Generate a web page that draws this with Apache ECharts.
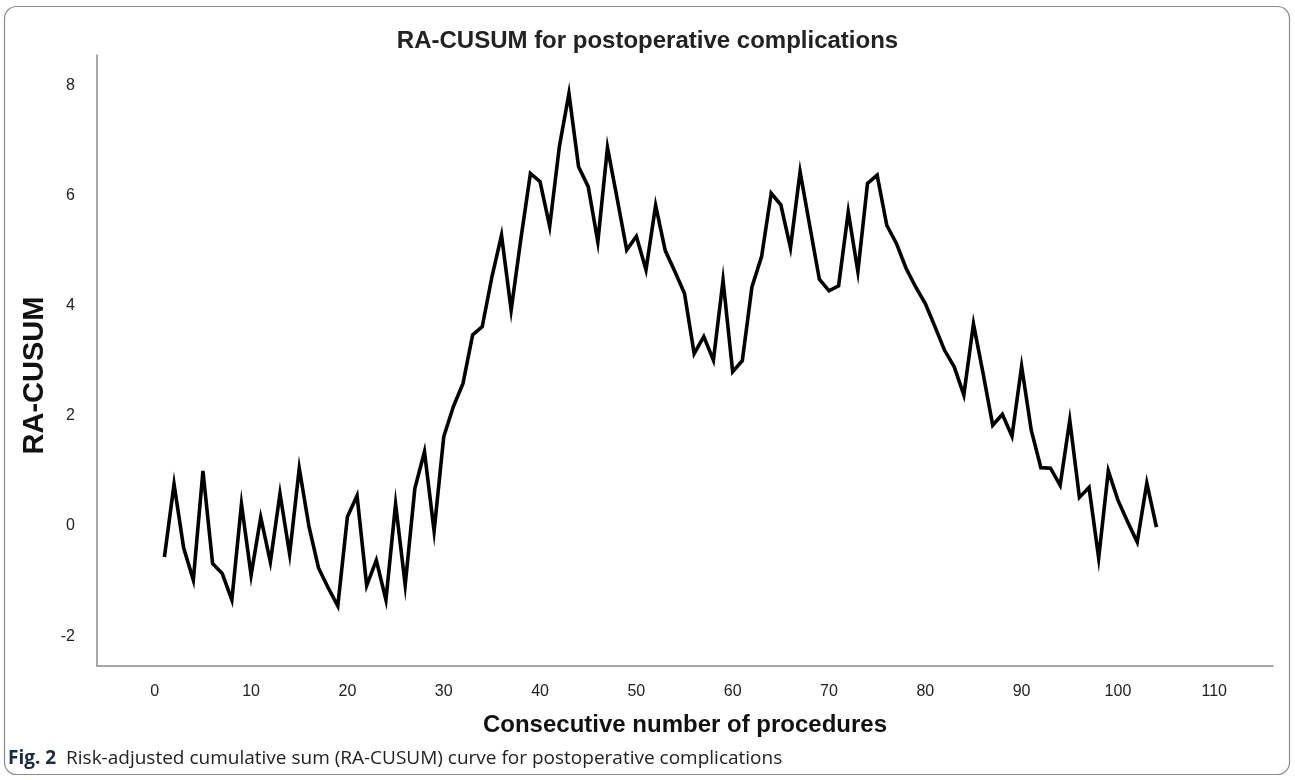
<!DOCTYPE html>
<html>
<head>
<meta charset="utf-8">
<script src="https://cdn.jsdelivr.net/npm/echarts@6/dist/echarts.min.js"></script>
<style>
html,body{margin:0;padding:0;background:#fff;}
#chart{width:1295px;height:780px;}
</style>
</head>
<body>
<div id="chart"></div>
<script>
const procedures = [];
for (let i = 1; i <= 104; i++) procedures.push(i);
const raCusum = [
  -0.56, 0.76, -0.40, -0.98, 1.00, -0.68, -0.86, -1.34, 0.40, -0.89,
  0.16, -0.65, 0.59, -0.51, 1.05, 0.00, -0.76, -1.12, -1.45, 0.17,
  0.55, -1.08, -0.62, -1.34, 0.40, -1.07, 0.68, 1.35, -0.09, 1.62,
  2.17, 2.59, 3.47, 3.62, 4.52, 5.28, 3.92, 5.20, 6.40, 6.25,
  5.44, 6.88, 7.85, 6.52, 6.16, 5.16, 6.87, 5.95, 5.01, 5.26,
  4.65, 5.82, 5.00, 4.62, 4.22, 3.13, 3.44, 3.01, 4.46, 2.80,
  3.00, 4.34, 4.89, 6.04, 5.83, 5.05, 6.43, 5.45, 4.48, 4.27,
  4.36, 5.70, 4.62, 6.22, 6.37, 5.46, 5.13, 4.68, 4.34, 4.04,
  3.62, 3.19, 2.89, 2.38, 3.67, 2.77, 1.83, 2.03, 1.63, 2.90,
  1.74, 1.06, 1.05, 0.74, 1.92, 0.52, 0.70, -0.58, 1.00, 0.47,
  0.08, -0.29, 0.78, -0.02
];
const xTicks = [0, 10, 20, 30, 40, 50, 60, 70, 80, 90, 100, 110];
const yTicks = [-2, 0, 2, 4, 6, 8];

const chart = echarts.init(document.getElementById('chart'), null, {renderer: 'canvas'});
chart.setOption({
  animation: false,
  backgroundColor: '#fff',
  title: {
    text: 'RA-CUSUM for postoperative complications',
    left: 'center',
    top: 24,
    textStyle: {fontFamily: 'Liberation Sans, Arial', fontWeight: 'bold', fontSize: 24, color: '#222'}
  },
  grid: {left: 97, top: 55, right: 22, bottom: 114, containLabel: false},
  xAxis: {
    type: 'value',
    min: -6, max: 116.1,
    name: 'Consecutive number of procedures',
    nameLocation: 'middle',
    nameGap: 47,
    nameTextStyle: {fontFamily: 'Liberation Sans, Arial', fontWeight: 'bold', fontSize: 24, color: '#111'},
    axisLine: {show: true, onZero: false, lineStyle: {color: '#8a8a8a', width: 1.5}},
    axisTick: {show: false},
    splitLine: {show: false},
    axisLabel: {customValues: xTicks, margin: 18, fontFamily: 'Liberation Sans, Arial', fontSize: 16, color: '#222'}
  },
  yAxis: {
    type: 'value',
    min: -2.54, max: 8.55,
    name: 'RA-CUSUM',
    nameLocation: 'middle',
    nameGap: 39,
    nameRotate: 90,
    nameTextStyle: {fontFamily: 'Liberation Sans, Arial', fontWeight: 'bold', fontSize: 29, color: '#111', padding: [0, 30, 0, 0]},
    axisLine: {show: true, onZero: false, lineStyle: {color: '#8a8a8a', width: 1.5}},
    axisTick: {show: false},
    splitLine: {show: false},
    axisLabel: {customValues: yTicks, margin: 22, fontFamily: 'Liberation Sans, Arial', fontSize: 16, color: '#222'}
  },
  series: [{
    type: 'line',
    data: procedures.map((p, i) => [p, raCusum[i]]),
    showSymbol: false,
    lineStyle: {color: '#000', width: 3.6, join: 'miter'},
    z: 3
  }],
  graphic: [
    {
      type: 'rect',
      shape: {x: 4.5, y: 6.5, width: 1285, height: 768, r: 12},
      style: {fill: 'none', stroke: '#8c8c8c', lineWidth: 1.2},
      silent: true
    },
    {
      type: 'text',
      left: 8,
      top: 749,
      style: {
        text: '{b|Fig. 2}  Risk-adjusted cumulative sum (RA-CUSUM) curve for postoperative complications',
        fontFamily: 'Open Sans',
        fontSize: 19,
        fill: '#222',
        rich: {b: {fontWeight: 'bold', fontFamily: 'Open Sans', fontSize: 19, fill: '#1d2a44'}}
      }
    }
  ]
});
</script>
</body>
</html>
